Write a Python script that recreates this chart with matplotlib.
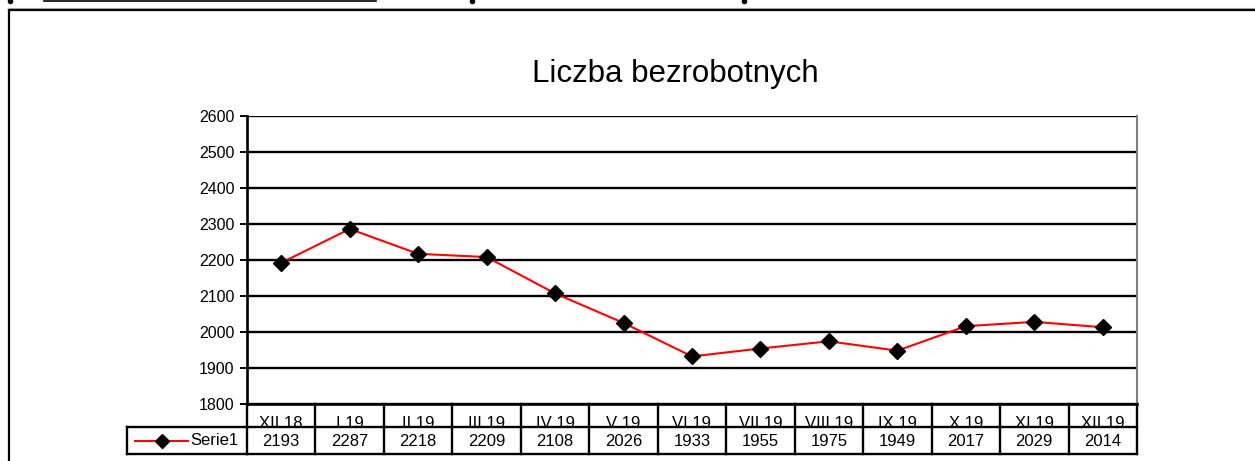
import matplotlib
matplotlib.use("Agg")
import matplotlib.pyplot as plt
from matplotlib.transforms import blended_transform_factory
from matplotlib.lines import Line2D

categories = ["XII 18", "I 19", "II 19", "III 19", "IV 19", "V 19", "VI 19",
              "VII 19", "VIII 19", "IX 19", "X 19", "XI 19", "XII 19"]
values = [2193, 2287, 2218, 2209, 2108, 2026, 1933, 1955, 1975, 1949, 2017, 2029, 2014]
series_name = "Serie1"
title = "Liczba bezrobotnych"
yticks = [1800, 1900, 2000, 2100, 2200, 2300, 2400, 2500, 2600]

plt.rcParams['font.family'] = ['Liberation Sans', 'DejaVu Sans']

W, H = 1255, 461
fig = plt.figure(figsize=(W / 100, H / 100), dpi=100)

def fx(x):
    return x / W

def fy(y):
    return 1 - y / H

# axes geometry (pixels)
L, R, T, B = 247, 1137, 116.3, 404.3
ax = fig.add_axes([fx(L), fy(B), fx(R) - fx(L), fy(T) - fy(B)])

xs = list(range(len(categories)))
ax.plot(xs, values, color='#ff0000', lw=1.5, marker='D', ms=8,
        mfc='black', mec='black', zorder=5, clip_on=False)

ax.set_xlim(-0.5, len(categories) - 0.5)
ax.set_ylim(yticks[0], yticks[-1])
ax.set_yticks(yticks)
ax.set_yticklabels([str(t) for t in yticks], fontsize=11.5)
ax.set_xticks([])
ax.tick_params(axis='y', length=5, width=1.4, color='black', pad=4)
for yv in yticks:
    ax.axhline(yv, color='black', lw=1.7, zorder=1)
ax.spines['top'].set_visible(False)
ax.spines['right'].set_color('#808080')
ax.spines['right'].set_linewidth(1.5)
ax.spines['left'].set_linewidth(1.9)
ax.spines['bottom'].set_linewidth(1.9)

# title
fig.text(fx(675.5), fy(74), title, fontsize=22.5, ha='center', va='center')

# data table below axes
tr = blended_transform_factory(ax.transData, fig.transFigure)
row1_top, row_mid, row_bot = 404.3, 426.7, 454
n = len(categories)
lw_t = 1.7
fig.add_artist(Line2D([-0.5, n - 0.5], [fy(row_mid), fy(row_mid)], transform=tr, color='black', lw=lw_t, zorder=6))
fig.add_artist(Line2D([-0.5, n - 0.5], [fy(row_bot), fy(row_bot)], transform=tr, color='black', lw=lw_t))
for i in range(n + 1):
    xb = i - 0.5
    fig.add_artist(Line2D([xb, xb], [fy(row1_top), fy(row_bot)], transform=tr, color='black', lw=lw_t))
# legend cell
fig.add_artist(Line2D([fx(127), fx(L)], [fy(row_mid), fy(row_mid)], transform=fig.transFigure, color='black', lw=lw_t))
fig.add_artist(Line2D([fx(127), fx(L)], [fy(row_bot), fy(row_bot)], transform=fig.transFigure, color='black', lw=lw_t))
fig.add_artist(Line2D([fx(127), fx(127)], [fy(row_mid), fy(row_bot)], transform=fig.transFigure, color='black', lw=lw_t))
legy = fy(440.5)
fig.add_artist(Line2D([fx(135), fx(188)], [legy, legy], transform=fig.transFigure, color='#ff0000', lw=1.5))
fig.add_artist(Line2D([fx(161.5)], [legy], transform=fig.transFigure, marker='D', ms=7,
                      mfc='black', mec='black', lw=0))
fig.text(fx(238), legy, series_name, fontsize=12, ha='right', va='center')

for i, (c, v) in enumerate(zip(categories, values)):
    fig.text(i, fy(427.8), c, transform=tr, fontsize=12, ha='center', va='baseline', zorder=1)
    fig.text(i, fy(441), str(v), transform=tr, fontsize=12, ha='center', va='center')

# outer frame
fig.add_artist(Line2D([fx(9), fx(1256)], [fy(10.5), fy(10.5)], transform=fig.transFigure, color='black', lw=1.6))
fig.add_artist(Line2D([fx(9), fx(9)], [fy(10.5), fy(462)], transform=fig.transFigure, color='black', lw=1.6))
fig.add_artist(Line2D([fx(9), fx(1256)], [fy(8.5), fy(8.5)], transform=fig.transFigure, color='#a0a0a0', lw=0.8))
# remnants of text above the frame
fig.add_artist(Line2D([fx(44), fx(376)], [fy(1.2), fy(1.2)], transform=fig.transFigure, color='black', lw=1.2))
for xd in [10, 472, 744]:
    fig.add_artist(Line2D([fx(xd)], [fy(1)], transform=fig.transFigure, marker='o', ms=3,
                          mfc='black', mec='black', lw=0))

fig.savefig("out.png", dpi=100)
